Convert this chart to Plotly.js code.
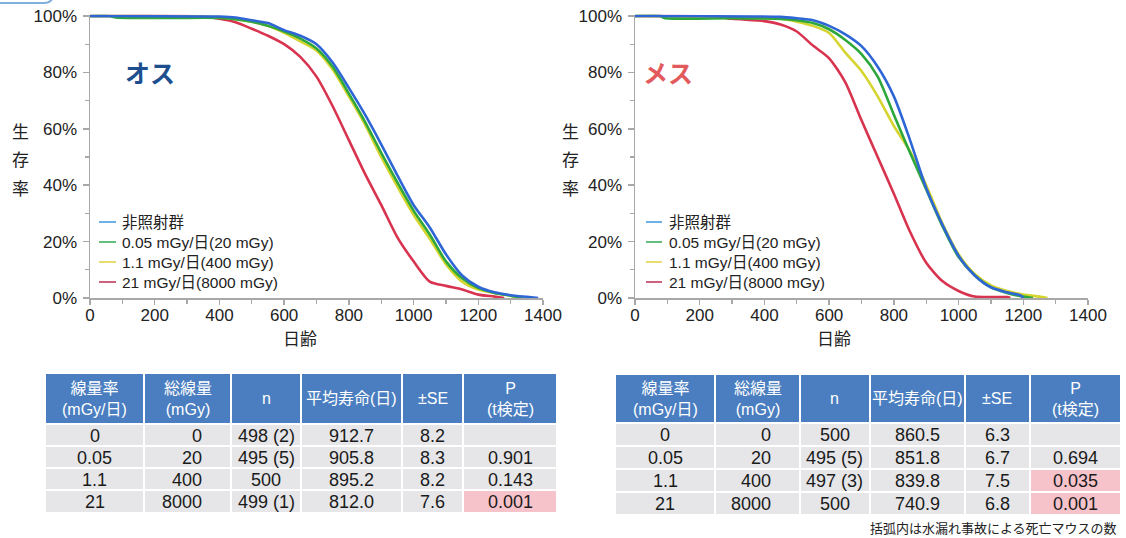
<!DOCTYPE html>
<html><head><meta charset="utf-8">
<script src="https://cdn.plot.ly/plotly-3.0.1.min.js"></script>
<style>html,body{margin:0;padding:0;background:#fff}#chart{width:1126px;height:538px}</style>
</head><body><div id="chart"></div>
<script>
// ---------- DATA ----------
const seriesNames = ['非照射群', '0.05 mGy/日(20 mGy)', '1.1 mGy/日(400 mGy)', '21 mGy/日(8000 mGy)'];
const sexLabels = ['オス', 'メス'];
const xTitle = '日齢';
const yTitle = '生存率';
const xTicks = [0, 200, 400, 600, 800, 1000, 1200, 1400];
const yTicks = [0, 20, 40, 60, 80, 100];
const yTickText = ['0%', '20%', '40%', '60%', '80%', '100%'];

// Male (オス) survival curves: day, survival %
const maleCtrlDays = [0, 400, 450, 500, 550, 600, 650, 700, 750, 800, 850, 900, 950, 1000, 1050, 1100, 1150, 1200, 1250, 1300, 1350, 1385];
const maleCtrlSurv = [100, 99.8, 99.5, 98.5, 97.5, 95, 93, 90, 83.5, 74.5, 65, 54.5, 43.5, 33, 25, 15.5, 8, 4, 2, 1, 0.4, 0];
const male005Days = [0, 60, 80, 250, 400, 500, 550, 600, 650, 700, 750, 800, 850, 900, 950, 1000, 1050, 1100, 1150, 1200, 1250, 1300, 1340];
const male005Surv = [100, 100, 99.5, 99.3, 99.3, 98, 96.5, 94.5, 92, 88.5, 82, 72.5, 62.5, 51.5, 41, 31, 22.5, 13, 7, 3.5, 1.8, 0.8, 0];
const male11Days = [0, 400, 500, 550, 600, 650, 700, 750, 800, 850, 900, 950, 1000, 1050, 1100, 1150, 1200, 1250, 1300, 1320];
const male11Surv = [100, 99.6, 98, 96.5, 94, 91, 87.8, 81, 71.5, 61.5, 50, 39.5, 29.5, 21, 12, 5.8, 3, 1.8, 0.8, 0];
const male21Days = [0, 350, 400, 450, 500, 550, 600, 650, 700, 750, 800, 850, 900, 950, 1000, 1050, 1100, 1150, 1200, 1250, 1280];
const male21Surv = [100, 99.8, 99, 97.8, 95.5, 93, 90, 85.5, 78.5, 68, 56, 44, 33, 21.5, 13, 5.8, 4.3, 3, 1.2, 0.5, 0];

// Female (メス) survival curves
const femaleCtrlDays = [0, 450, 500, 550, 600, 650, 700, 750, 800, 850, 900, 950, 1000, 1050, 1100, 1150, 1190, 1200];
const femaleCtrlSurv = [100, 99.7, 99.2, 98.5, 96.5, 93.5, 89.3, 82, 71.5, 56, 39, 26, 15, 8, 3.8, 2, 1, 0];
const female005Days = [0, 80, 90, 300, 450, 500, 550, 600, 650, 700, 750, 800, 850, 900, 950, 1000, 1050, 1100, 1150, 1200, 1230];
const female005Surv = [100, 100, 99.3, 99.2, 99, 98.5, 97.5, 95.3, 91.5, 86.5, 78.5, 65, 51.5, 38.5, 25.5, 14.5, 8, 3.8, 1.8, 0.5, 0];
const female11Days = [0, 200, 450, 500, 550, 600, 650, 700, 750, 800, 850, 900, 950, 1000, 1050, 1100, 1150, 1200, 1250, 1275];
const female11Surv = [100, 99.7, 99, 98, 96.5, 94, 87, 80.5, 71.5, 61, 52, 40, 26.5, 15.5, 8.5, 4.5, 2.5, 1.2, 0.5, 0];
const female21Days = [0, 250, 300, 400, 450, 500, 550, 600, 650, 700, 750, 800, 850, 900, 950, 1000, 1050, 1150, 1160];
const female21Surv = [100, 99.8, 99, 98.2, 97, 94.5, 89.5, 85, 76.5, 63, 50, 37, 23.5, 12.5, 6, 2.5, 0.5, 0.3, 0];

// Tables
const tableHeader = ['線量率<br>(mGy/日)', '総線量<br>(mGy)', 'n', '平均寿命(日)', '±SE', 'P<br>(t検定)'];
const doseRate = ['0', '0.05', '1.1', '21'];
const totalDose = ['0', '20', '400', '8000'];
const maleN = ['498 (2)', '495 (5)', '500', '499 (1)'];
const maleMean = ['912.7', '905.8', '895.2', '812.0'];
const maleSE = ['8.2', '8.3', '8.2', '7.6'];
const maleP = ['', '0.901', '0.143', '0.001'];
const femaleN = ['500', '495 (5)', '497 (3)', '500'];
const femaleMean = ['860.5', '851.8', '839.8', '740.9'];
const femaleSE = ['6.3', '6.7', '7.5', '6.8'];
const femaleP = ['', '0.694', '0.035', '0.001'];
const footnote = '括弧内は水漏れ事故による死亡マウスの数';

// ---------- STYLE ----------
const W = 1126, H = 538;
const FONT = '"Liberation Sans", Arial, "Noto Sans CJK JP", sans-serif';
const JFONT = '"Noto Sans CJK JP", "Liberation Sans", sans-serif';
const lineColors = ['#2f66d6', '#2ea83c', '#d6d42e', '#d8334f'];
const legendColors = ['#4a9ee0', '#3cb05a', '#e2d44a', '#c23a5c'];
const px = v => v / W;
const py = v => 1 - v / H;

const plotTop = 14.6, plotBottom = 298;
const panels = [
  {x0: 90, x1: 543, labelColor: '#1d4f8f', labelX: 150, ylabX: 20, xtitleX: 300, legLine: [99, 116], legText: 120,
   series: [[maleCtrlDays, maleCtrlSurv], [male005Days, male005Surv], [male11Days, male11Surv], [male21Days, male21Surv]]},
  {x0: 635, x1: 1088, labelColor: '#e25a5c', labelX: 668, ylabX: 570, xtitleX: 834, legLine: [646, 662], legText: 667,
   series: [[femaleCtrlDays, femaleCtrlSurv], [female005Days, female005Surv], [female11Days, female11Surv], [female21Days, female21Surv]]}
];

const data = [];
const layout = {
  width: W, height: H, margin: {l: 0, r: 0, t: 0, b: 0},
  paper_bgcolor: '#fff', plot_bgcolor: 'rgba(0,0,0,0)',
  showlegend: false, font: {family: FONT, color: '#222'},
  annotations: [], shapes: []
};

panels.forEach((p, i) => {
  const xa = i === 0 ? 'x' : 'x2', ya = i === 0 ? 'y' : 'y2';
  const xk = i === 0 ? 'xaxis' : 'xaxis2', yk = i === 0 ? 'yaxis' : 'yaxis2';
  [3, 2, 1, 0].forEach(s => {
    data.push({type: 'scatter', mode: 'lines', x: p.series[s][0], y: p.series[s][1], name: seriesNames[s],
      xaxis: xa, yaxis: ya, line: {color: lineColors[s], width: 2.6, shape: 'spline', smoothing: 0.7}, hoverinfo: 'skip'});
  });
  const axCommon = {showline: true, linecolor: '#a8a8a8', linewidth: 1.5, ticks: 'outside', tickcolor: '#a8a8a8',
    tickwidth: 1.5, showgrid: false, zeroline: false, fixedrange: true, tickfont: {size: 17, color: '#222', family: FONT}};
  layout[xk] = Object.assign({}, axCommon, {domain: [px(p.x0), px(p.x1)], range: [0, 1400], tickmode: 'array',
    tickvals: xTicks, ticktext: xTicks.map(String), ticklen: 5, ticklabelstandoff: -4, anchor: ya,
    minor: {tickvals: xTicks.slice(0, -1).map(v => v + 100), ticks: 'outside', ticklen: 4, tickcolor: '#a8a8a8', tickwidth: 1.2}});
  layout[yk] = Object.assign({}, axCommon, {domain: [py(plotBottom), py(plotTop)], range: [0, 100.5], tickmode: 'array',
    tickvals: yTicks, ticktext: yTickText, ticklen: 6, ticklabelstandoff: 2, anchor: xa,
    minor: {tickvals: [10, 30, 50, 70, 90], ticks: 'outside', ticklen: 4, tickcolor: '#a8a8a8', tickwidth: 1.2}});

  layout.annotations.push({xref: 'paper', yref: 'paper', x: px(p.labelX), y: py(72), text: '<b>' + sexLabels[i] + '</b>',
    showarrow: false, xanchor: 'center', yanchor: 'middle', font: {family: JFONT, size: 25, color: p.labelColor}});
  Array.from(yTitle).forEach((ch, k) => {
    layout.annotations.push({xref: 'paper', yref: 'paper', x: px(p.ylabX), y: py(130 + k * 28.5), text: ch,
      showarrow: false, xanchor: 'center', yanchor: 'middle', font: {family: JFONT, size: 17, color: '#222'}});
  });
  layout.annotations.push({xref: 'paper', yref: 'paper', x: px(p.xtitleX), y: py(337), text: xTitle,
    showarrow: false, xanchor: 'center', yanchor: 'middle', font: {family: JFONT, size: 17, color: '#222'}});
  seriesNames.forEach((nm, s) => {
    const yy = 222 + s * 20;
    layout.shapes.push({type: 'line', xref: 'paper', yref: 'paper', x0: px(p.legLine[0]), x1: px(p.legLine[1]),
      y0: py(yy), y1: py(yy), line: {color: legendColors[s], width: 1.6}});
    layout.annotations.push({xref: 'paper', yref: 'paper', x: px(p.legText), y: py(yy), text: nm, showarrow: false,
      xanchor: 'left', yanchor: 'middle', font: {family: FONT, size: 15.5, color: '#222'}});
  });
});

// ---------- TABLES (drawn as cells of rectangles + text) ----------
const HEAD_FILL = '#4a7ec0', CELL_FILL = '#e6e6e9', HI_FILL = '#f7c3cb';
function pFill(pv) { return pv !== '' && parseFloat(pv) < 0.05 ? HI_FILL : CELL_FILL; }
function drawTable(cols, xs, ys) {
  const aligns = ['center', 'right', 'center', 'center', 'center', 'center'];
  tableHeader.forEach((h, c) => {
    layout.shapes.push({type: 'rect', xref: 'paper', yref: 'paper', x0: px(xs[c]), x1: px(xs[c + 1]),
      y0: py(ys[1]), y1: py(ys[0]), fillcolor: HEAD_FILL, line: {color: '#ffffff', width: 2}, layer: 'below'});
    layout.annotations.push({xref: 'paper', yref: 'paper', x: px((xs[c] + xs[c + 1]) / 2), y: py((ys[0] + ys[1]) / 2),
      text: h, showarrow: false, xanchor: 'center', yanchor: 'middle',
      font: {family: FONT, size: 16, color: '#ffffff'}});
  });
  cols.forEach((col, c) => {
    col.forEach((v, r) => {
      const y0 = ys[r + 1], y1 = ys[r + 2];
      layout.shapes.push({type: 'rect', xref: 'paper', yref: 'paper', x0: px(xs[c]), x1: px(xs[c + 1]),
        y0: py(y1), y1: py(y0), fillcolor: c === 5 ? pFill(v) : CELL_FILL, line: {color: '#ffffff', width: 2}, layer: 'below'});
      if (v === '') return;
      const xPos = aligns[c] === 'right' ? xs[c + 1] - 27 : (xs[c] + xs[c + 1]) / 2;
      layout.annotations.push({xref: 'paper', yref: 'paper', x: px(xPos), y: py((y0 + y1) / 2 + 0.5), text: v,
        showarrow: false, xanchor: aligns[c] === 'right' ? 'right' : 'center', yanchor: 'middle',
        font: {family: FONT, size: 18, color: '#1a1a1a'}});
    });
  });
}
drawTable([doseRate, totalDose, maleN, maleMean, maleSE, maleP],
  [45, 144, 231, 301, 402, 463, 557], [373, 424, 446, 468, 490, 513]);
drawTable([doseRate, totalDose, femaleN, femaleMean, femaleSE, femaleP],
  [615, 715, 800, 870, 965, 1030, 1121], [374, 423, 446, 469, 492, 515]);

layout.annotations.push({xref: 'paper', yref: 'paper', x: px(1119), y: py(527), text: footnote, showarrow: false,
  xanchor: 'right', yanchor: 'middle', font: {family: JFONT, size: 13, color: '#222'}});

layout.shapes.push({type: 'path', xref: 'paper', yref: 'paper',
  path: `M ${px(0)},${py(3)} L ${px(44)},${py(3)} Q ${px(52)},${py(3)} ${px(53)},${py(-4)}`,
  line: {color: '#7fb0e0', width: 2}});

Plotly.newPlot('chart', data, layout, {staticPlot: true, displayModeBar: false});
</script>
</body></html>
